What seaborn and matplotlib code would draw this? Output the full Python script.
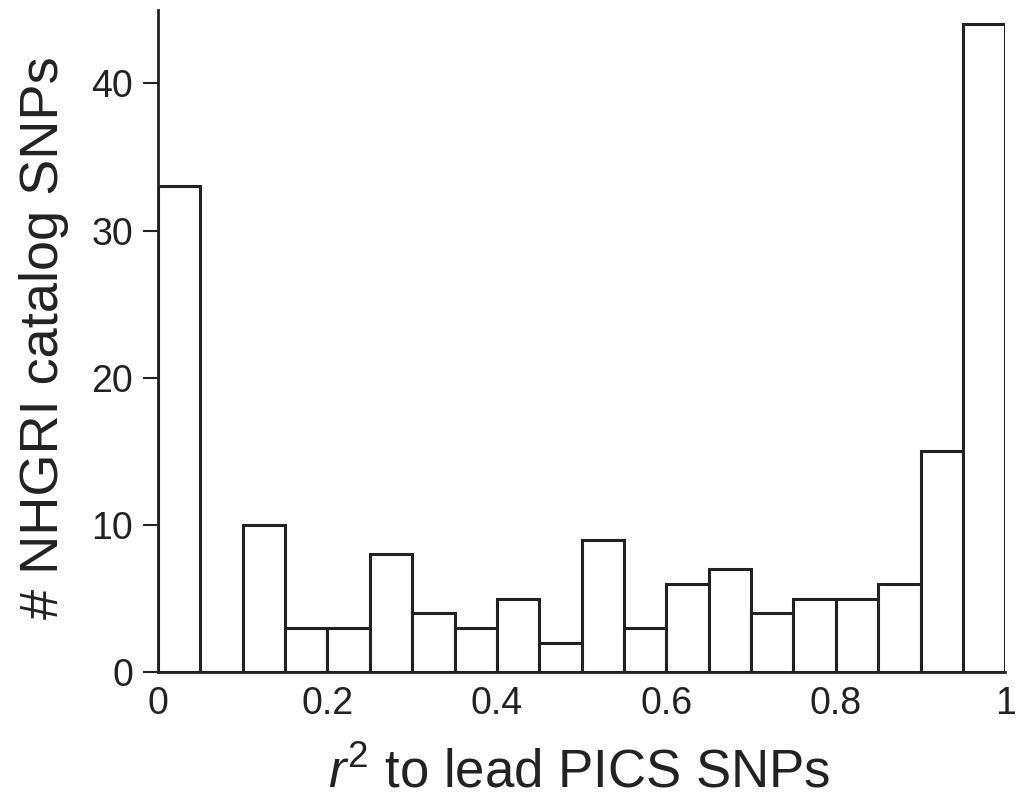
import numpy as np
import pandas as pd
import seaborn as sns
import matplotlib
matplotlib.use('Agg')
import matplotlib.pyplot as plt

# bin edges of the r^2 histogram and the count in each bin
bin_edges = [0.0, 0.05, 0.1, 0.15, 0.2, 0.25, 0.3, 0.35, 0.4, 0.45, 0.5,
             0.55, 0.6, 0.65, 0.7, 0.75, 0.8, 0.85, 0.9, 0.95, 1.0]
counts = [33, 0, 10, 3, 3, 8, 4, 3, 5, 2, 9, 3, 6, 7, 4, 5, 5, 6, 15, 44]

x_ticks = [0, 0.2, 0.4, 0.6, 0.8, 1]
x_ticklabels = ['0', '0.2', '0.4', '0.6', '0.8', '1']
y_ticks = [0, 10, 20, 30, 40]

sns.set_style('ticks')
plt.rcParams['font.family'] = ['Liberation Sans', 'DejaVu Sans']
plt.rcParams['mathtext.fontset'] = 'custom'
plt.rcParams['mathtext.rm'] = 'Liberation Sans'
plt.rcParams['mathtext.it'] = 'Liberation Sans:italic'

edges = np.array(bin_edges)
df = pd.DataFrame({'r2': (edges[:-1] + edges[1:]) / 2, 'n': counts})

fig = plt.figure(figsize=(10.16, 8.08), dpi=100)
ax = fig.add_axes([0.1555, 0.168, 0.834, 0.82])

sns.histplot(data=df, x='r2', weights='n', bins=bin_edges, ax=ax,
             color='white', edgecolor='#222222', linewidth=2.2, alpha=1)

ax.set_xlim(0, 1)
ax.set_ylim(0, 45)
ax.set_xticks(x_ticks)
ax.set_xticklabels(x_ticklabels)
ax.set_yticks(y_ticks)
ax.tick_params(axis='x', length=0, pad=10, labelsize=27, colors='#222222')
ax.tick_params(axis='y', length=11, width=1.5, pad=7, labelsize=27, colors='#222222')

for s in ['top', 'right']:
    ax.spines[s].set_visible(False)
for s in ['left', 'bottom']:
    ax.spines[s].set_linewidth(2)
    ax.spines[s].set_color('#222222')

ax.set_xlabel('$r^2$ to lead PICS SNPs', fontsize=38, color='#222222', va='top')
ax.set_ylabel('# NHGRI catalog SNPs', fontsize=39, color='#222222')
ax.xaxis.set_label_coords(0.497, -0.115)
ax.yaxis.set_label_coords(-0.105, 0.505)

fig.savefig('out.png', dpi=100)
